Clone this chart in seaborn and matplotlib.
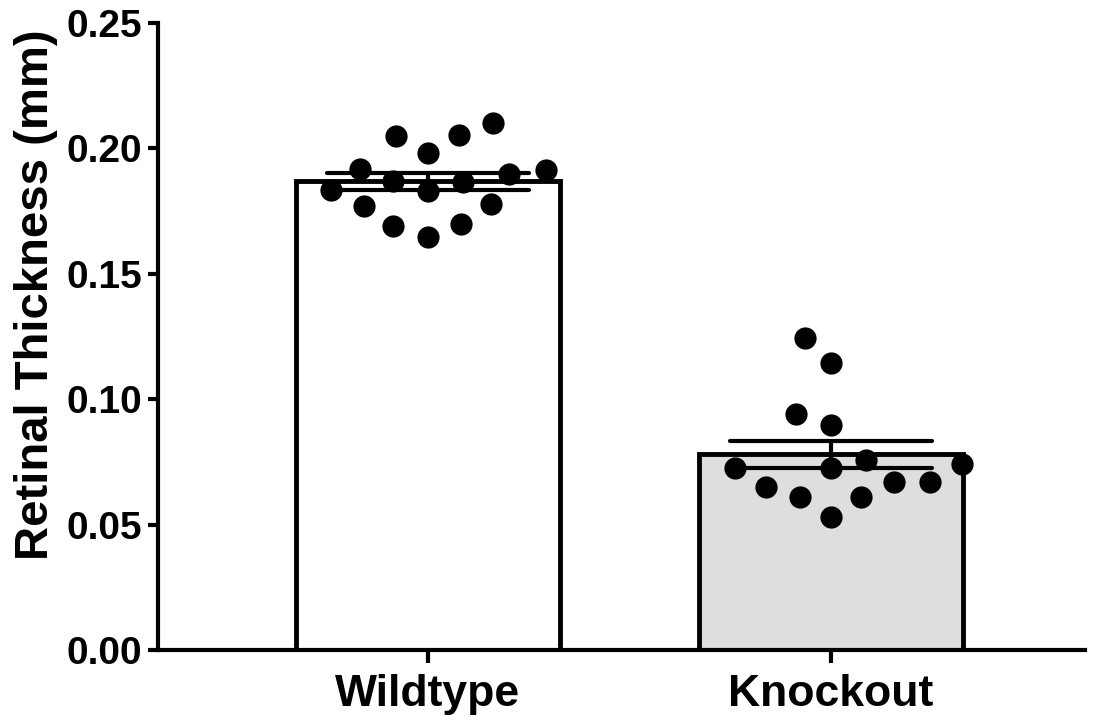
import pandas as pd
import matplotlib.pyplot as plt
import seaborn as sns
from matplotlib.ticker import FormatStrFormatter

# values (mm)
groups = ["Wildtype", "Knockout"]
wildtype = [0.2102, 0.205, 0.2053, 0.198, 0.192, 0.190, 0.1914, 0.1867,
            0.183, 0.187, 0.1834, 0.178, 0.177, 0.170, 0.169, 0.1646]
knockout = [0.1243, 0.1146, 0.0941, 0.0897, 0.0758, 0.0742, 0.0724, 0.0724,
            0.0669, 0.0649, 0.0671, 0.0609, 0.0609, 0.0532]
bar_colors = ["white", "#dedede"]

df = pd.DataFrame({
    "group": [groups[0]] * len(wildtype) + [groups[1]] * len(knockout),
    "thickness": wildtype + knockout,
})

sns.set_style("ticks")
plt.rcParams['font.family'] = ['Liberation Sans', 'DejaVu Sans']
plt.rcParams['font.weight'] = 'bold'
plt.rcParams['text.color'] = 'black'
plt.rcParams['axes.labelcolor'] = 'black'
plt.rcParams['axes.edgecolor'] = 'black'
plt.rcParams['xtick.color'] = 'black'
plt.rcParams['ytick.color'] = 'black'

fig = plt.figure(figsize=(11, 7.21), dpi=100)
ax = fig.add_axes([0.1436, 0.0985, 0.8424, 0.8695])

sns.barplot(data=df, x="group", y="thickness", hue="group", palette=bar_colors,
            legend=False, order=groups, errorbar="se", capsize=0.5, width=0.655,
            edgecolor="black", linewidth=3.5,
            err_kws={"linewidth": 3, "color": "black"}, ax=ax)

# lay the swarm out with a wider marker so the dots spread like the original,
# then freeze the layout and shrink the dots
n_before = len(ax.collections)
sns.swarmplot(data=df, x="group", y="thickness", order=groups, color="black",
              size=25, ax=ax, warn_thresh=1)
ax.set_ylim(0, 0.25)
ax.set_xlim(-0.67, 1.63)
fig.canvas.draw()
for coll in ax.collections[n_before:]:
    if "draw" in coll.__dict__:
        del coll.draw
    coll.set_sizes([16 ** 2])
    coll.set_zorder(1.5)

ax.set_yticks([0, 0.05, 0.10, 0.15, 0.20, 0.25])
ax.yaxis.set_major_formatter(FormatStrFormatter('%.2f'))
ax.set_xlabel("")
ax.set_ylabel("Retinal Thickness (mm)", fontsize=34, fontweight='bold')
ax.yaxis.set_label_coords(-0.108, 0.566)

sns.despine(ax=ax)
for s in ["left", "bottom"]:
    ax.spines[s].set_linewidth(3)
ax.tick_params(axis='y', width=3, length=7.5, labelsize=28, pad=4)
ax.tick_params(axis='x', width=3, length=9.5, labelsize=32, pad=8)
for lab in ax.get_xticklabels() + ax.get_yticklabels():
    lab.set_fontweight('bold')

fig.savefig("out.png", dpi=100)
